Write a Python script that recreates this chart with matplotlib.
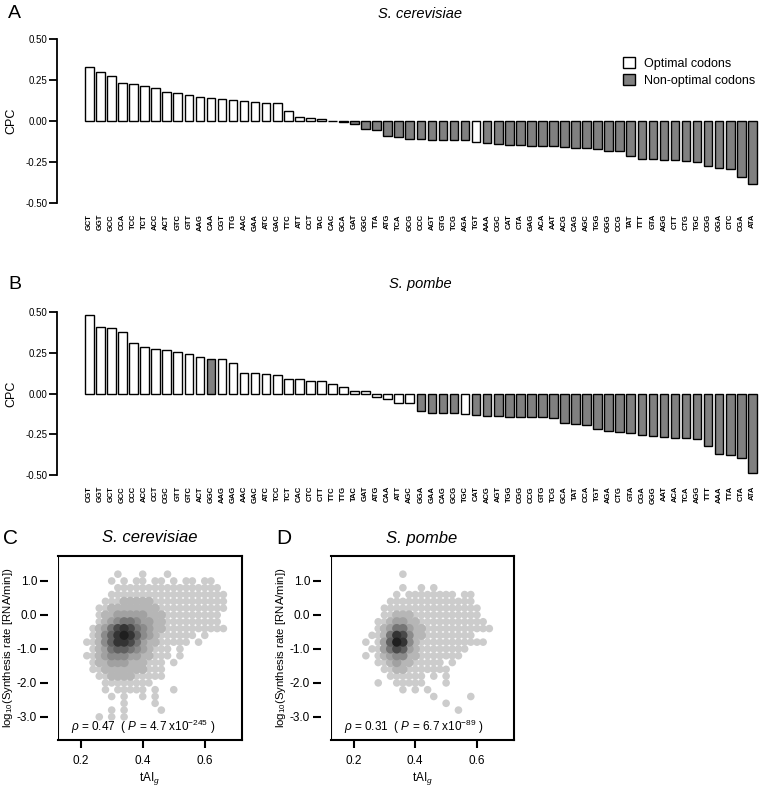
import matplotlib
matplotlib.use("Agg")
import matplotlib.pyplot as plt
from matplotlib.patches import Patch
import numpy as np

plt.rcParams["font.family"] = ["Liberation Sans", "DejaVu Sans"]
plt.rcParams["mathtext.fontset"] = "custom"
plt.rcParams["mathtext.rm"] = "Liberation Sans"
plt.rcParams["mathtext.it"] = "Liberation Sans:italic"

# ---------------------------------------------------------------------------
# Data
# ---------------------------------------------------------------------------

codons_sc = ["GCT", "GGT", "GCC", "CCA", "TCC", "TCT", "ACC", "ACT", "GTC", "GTT",
             "AAG", "CAA", "CGT", "TTG", "AAC", "GAA", "ATC", "GAC", "TTC", "ATT",
             "CCT", "TAC", "CAC", "GCA", "GAT", "GGC", "TTA", "ATG", "TCA", "GCG",
             "CCC", "AGT", "GTG", "TCG", "AGA", "TGT", "AAA", "CGC", "CAT", "CTA",
             "GAG", "ACA", "AAT", "ACG", "CAG", "AGC", "TGG", "GGG", "CCG", "TAT",
             "TTT", "GTA", "AGG", "CTT", "CTG", "TGC", "CGG", "GGA", "CTC", "CGA",
             "ATA"]
cpc_sc = [0.331, 0.301, 0.274, 0.230, 0.226, 0.215, 0.199, 0.179, 0.173, 0.161,
          0.144, 0.138, 0.132, 0.130, 0.120, 0.114, 0.112, 0.108, 0.063, 0.026,
          0.020, 0.014, 0.002, -0.006, -0.020, -0.050, -0.055, -0.090, -0.095, -0.108,
          -0.112, -0.116, -0.116, -0.116, -0.116, -0.126, -0.132, -0.140, -0.146, -0.148,
          -0.150, -0.150, -0.152, -0.156, -0.163, -0.167, -0.173, -0.181, -0.183, -0.213,
          -0.230, -0.232, -0.236, -0.236, -0.244, -0.250, -0.274, -0.285, -0.295, -0.339,
          -0.384]
optimal_sc = [1] * 22 + [0] * 13 + [1] + [0] * 25

codons_sp = ["CGT", "GGT", "GCT", "GCC", "CCC", "ACC", "CCT", "CGC", "GTT", "GTC",
             "ACT", "GGC", "AAG", "GAG", "AAC", "GAC", "ATC", "TCC", "TCT", "CAC",
             "CTC", "CTT", "TTC", "TTG", "TAC", "GAT", "ATG", "CAA", "ATT", "AGC",
             "GGA", "GAA", "CAG", "GCG", "TGC", "CAT", "ACG", "AGT", "TGG", "CGG",
             "CCG", "GTG", "TCG", "GCA", "TAT", "CCA", "TGT", "AGA", "CTG", "GTA",
             "CGA", "GGG", "AAT", "ACA", "TCA", "AGG", "TTT", "AAA", "TTA", "CTA",
             "ATA"]
cpc_sp = [0.479, 0.405, 0.401, 0.377, 0.307, 0.286, 0.272, 0.265, 0.255, 0.241,
          0.226, 0.212, 0.212, 0.189, 0.128, 0.123, 0.119, 0.115, 0.086, 0.086,
          0.077, 0.077, 0.058, 0.042, 0.018, 0.018, -0.020, -0.033, -0.057, -0.057,
          -0.110, -0.121, -0.121, -0.121, -0.125, -0.132, -0.136, -0.140, -0.142, -0.142,
          -0.142, -0.146, -0.152, -0.181, -0.187, -0.195, -0.215, -0.232, -0.239, -0.245,
          -0.253, -0.259, -0.265, -0.270, -0.273, -0.279, -0.321, -0.372, -0.376, -0.393,
          -0.490]
optimal_sp = [1] * 11 + [0] + [1] * 18 + [0] * 4 + [1] + [0] * 26

# Scatter panels: density of genes on a tAI_g x log10(rate) grid
# (0 = no genes, 1 = sparse light points ... 9 = darkest core)
tai_bins = [0.22, 0.24, 0.26, 0.28, 0.30, 0.32, 0.34, 0.36, 0.38, 0.40, 0.42, 0.44,
            0.46, 0.48, 0.50, 0.52, 0.54, 0.56, 0.58, 0.60, 0.62, 0.64, 0.66]
rate_bins = [1.2, 1.0, 0.8, 0.6, 0.4, 0.2, 0.0, -0.2, -0.4, -0.6, -0.8, -1.0,
             -1.2, -1.4, -1.6, -1.8, -2.0, -2.2, -2.4, -2.6, -2.8, -3.0]

density_sc = [
    ".....1...1...1.........",
    "....1.1.11.11.1.11.11..",
    ".....11111111111111111.",
    "....1111111111111111111",
    "...11122222111111111111",
    "..112222222211111111111",
    "..12233333222111111111.",
    "..12345543322111111111.",
    ".1235787543221111111111",
    ".12468986432111111.1...",
    "11246887532211111.1....",
    ".1235665432111.1.......",
    "11234443322111.1.......",
    ".122333222111.1........",
    ".112222222111..........",
    "..11222211111..........",
    "...11111111............",
    "...1.11111.1..1........",
    "....1.1..1.1...........",
    "......1....1...........",
    "....1.1.....1..........",
    "..1.1.1................",
]

density_sp = [
    ".......1...............",
    ".......................",
    ".......1..1.1..........",
    "......1.11111111.11....",
    ".....11111111111111....",
    "....1111111111111111...",
    "....1122211111111111...",
    "...112332211111111111..",
    "...1235532211111111111.",
    "..11258742211111111....",
    ".1.136984211111111111..",
    "..1135763211111111.....",
    ".1.12344221111111......",
    "...11232211111.1.......",
    "....11221111111........",
    ".....111111.1.1........",
    "...1..11111...1........",
    ".......1.1.1...........",
    "............1.....1....",
    "..............1........",
    "................1......",
    ".......................",
]

W, H = 778, 789
fig = plt.figure(figsize=(W / 100, H / 100), dpi=100)


def px_axes(left, top, right, bottom):
    return fig.add_axes([left / W, 1 - bottom / H, (right - left) / W, (bottom - top) / H])


def bar_panel(ax, codons, cpc, optimal):
    x = np.arange(len(codons))
    colors = ["white" if o else "#808080" for o in optimal]
    ax.bar(x, cpc, width=0.78, color=colors, edgecolor="black", linewidth=1.0)
    ax.set_xlim(-2.93, 61.6)
    ax.set_ylim(-0.5, 0.5)
    for s in ["top", "right", "bottom"]:
        ax.spines[s].set_visible(False)
    ax.spines["left"].set_linewidth(1.3)
    ax.set_yticks([0.5, 0.25, 0.0, -0.25, -0.5])
    ax.set_yticklabels(["0.50", "0.25", "0.00", "-0.25", "-0.50"])
    ax.tick_params(axis="y", direction="out", length=6, width=1.3, labelsize=7, pad=1)
    ax.set_xticks(x)
    ax.set_xticklabels(codons, rotation=90, fontsize=5.5, fontweight="bold")
    ax.tick_params(axis="x", length=0, pad=8)
    ax.set_ylabel("CPC", fontsize=9, labelpad=6)


def scatter_panel(ax, density, label_text):
    greys = {}
    for r, row in enumerate(density):
        for c, ch in enumerate(row):
            if ch != ".":
                greys.setdefault(int(ch), []).append((tai_bins[c], rate_bins[r]))
    for lvl in sorted(greys):
        pts = np.array(greys[lvl])
        g = 0.80 - (lvl - 1) * 0.085
        size = 30 if lvl == 1 else 44
        ax.scatter(pts[:, 0], pts[:, 1], s=size, color=(g, g, g), edgecolors="none",
                   zorder=2)
    ax.set_xlim(0.127, 0.72)
    ax.set_ylim(-3.68, 1.735)
    for s in ax.spines.values():
        s.set_linewidth(1.5)
    ax.spines["left"].set_position(("outward", 7))
    ax.spines["left"].set_color("none")
    ax.axvline(0.127, color="black", linewidth=1.5, zorder=3)
    ax.set_xticks([0.2, 0.4, 0.6])
    ax.set_xticklabels(["0.2", "0.4", "0.6"])
    ax.set_yticks([1, 0, -1, -2, -3])
    ax.set_yticklabels(["1.0", "0.0", "-1.0", "-2.0", "-3.0"])
    ax.tick_params(direction="out", length=6, width=1.5, labelsize=8.5, color="black")
    ax.tick_params(axis="x", pad=5)
    ax.tick_params(axis="y", pad=2)
    ax.set_xlabel("tAI$_g$", fontsize=8.5, labelpad=2)
    ax.set_ylabel("log$_{10}$(Synthesis rate [RNA/min])", fontsize=8.2, labelpad=1)
    ax.text(0.07, 0.07, label_text, transform=ax.transAxes, fontsize=8.5,
            ha="left", va="center", zorder=4)


# Panel A
axA = px_axes(57, 39, 770, 203)
bar_panel(axA, codons_sc, cpc_sc, optimal_sc)
axA.legend(handles=[Patch(facecolor="white", edgecolor="black", label="Optimal codons"),
                    Patch(facecolor="#808080", edgecolor="black", label="Non-optimal codons")],
           loc="upper left", bbox_to_anchor=(612 / W, 1 - 46 / H),
           bbox_transform=fig.transFigure, frameon=False, fontsize=9,
           handlelength=0.9, handleheight=0.9, handletextpad=0.8, labelspacing=0.35)
fig.text(420 / W, 1 - 14 / H, "S. cerevisiae", fontsize=10.5, style="italic",
         ha="center", va="center")
fig.text(8 / W, 1 - 14 / H, "A", fontsize=14, ha="left", va="center")

# Panel B
axB = px_axes(57, 312, 770, 475)
bar_panel(axB, codons_sp, cpc_sp, optimal_sp)
fig.text(420 / W, 1 - 284 / H, "S. pombe", fontsize=10.5, style="italic",
         ha="center", va="center")
fig.text(8 / W, 1 - 284 / H, "B", fontsize=14, ha="left", va="center")

# Panel C
axC = px_axes(58, 556, 242, 740)
scatter_panel(axC, density_sc,
              r"$\rho$ = 0.47  ( $P$ = 4.7 x10$^{-245}$ )")
fig.text(150 / W, 1 - 538 / H, "S. cerevisiae", fontsize=12, style="italic",
         ha="center", va="center")
fig.text(3 / W, 1 - 538 / H, "C", fontsize=15, ha="left", va="center")

# Panel D
axD = px_axes(331, 556, 514, 740)
scatter_panel(axD, density_sp,
              r"$\rho$ = 0.31  ( $P$ = 6.7 x10$^{-89}$ )")
fig.text(422 / W, 1 - 538 / H, "S. pombe", fontsize=12, style="italic",
         ha="center", va="center")
fig.text(276 / W, 1 - 538 / H, "D", fontsize=15, ha="left", va="center")

fig.savefig("out.png", dpi=100)
